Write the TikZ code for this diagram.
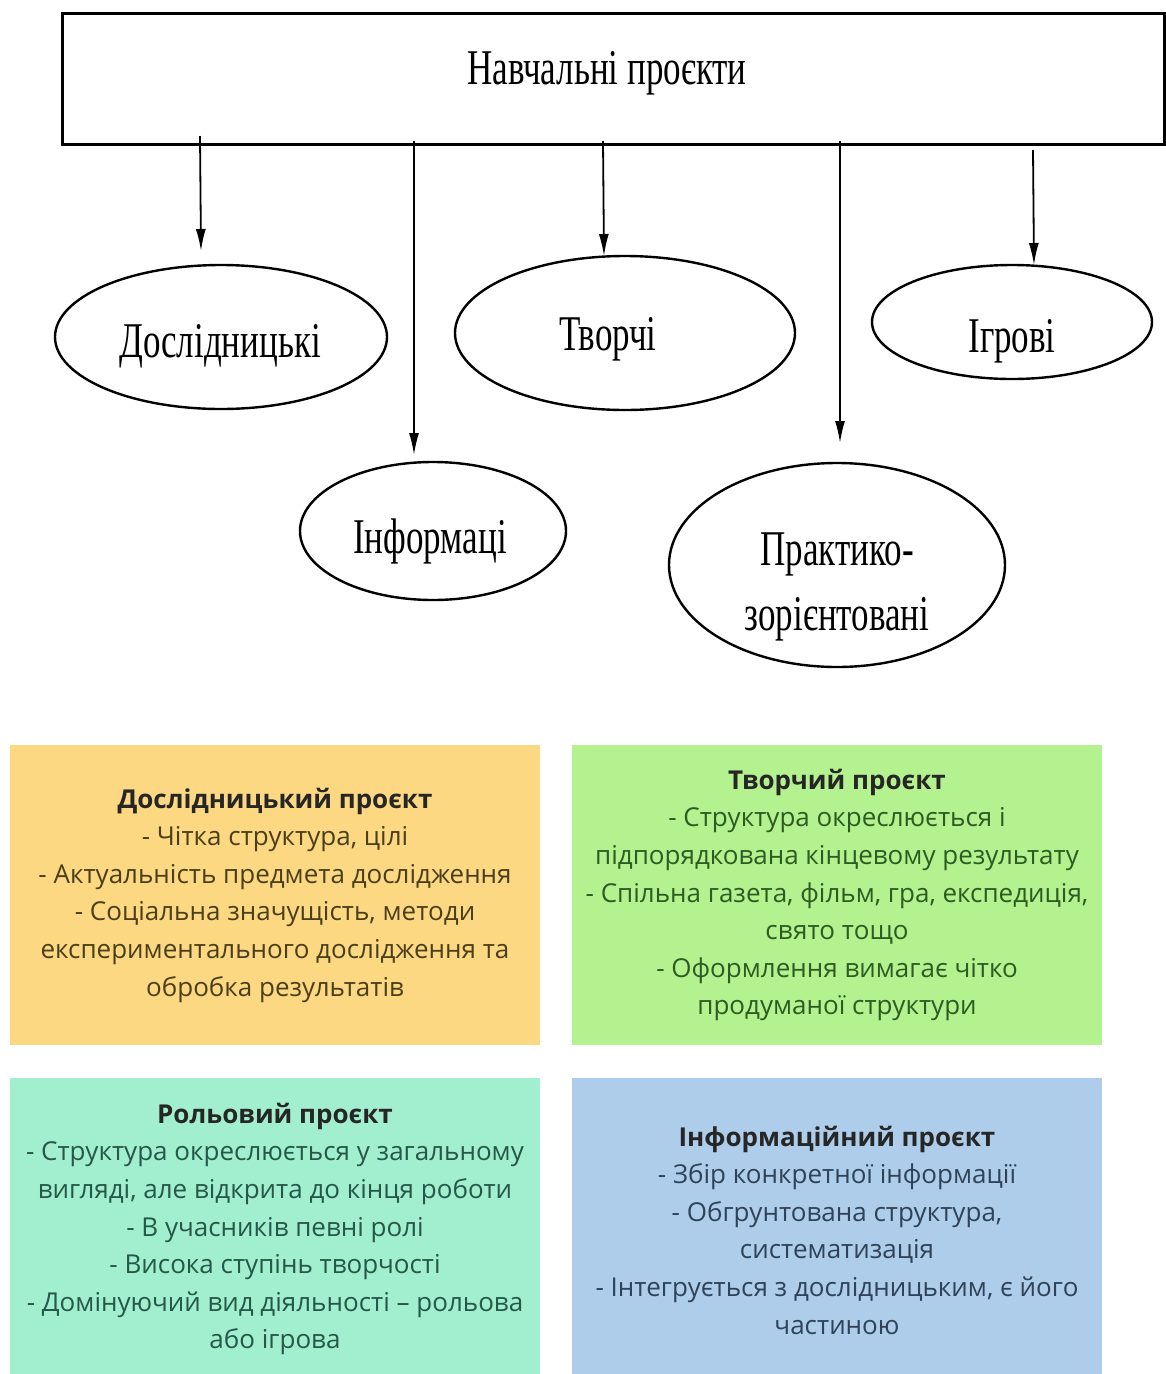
\documentclass[tikz,border=0pt]{standalone}
\usepackage{fontspec}
\setmainfont{Liberation Serif}
\newfontfamily\cond[FakeStretch=0.7]{Liberation Serif}
\newfontfamily\opensans{Open Sans}
\usetikzlibrary{shapes.geometric,arrows.meta}
\definecolor{boxY}{HTML}{FDD882}
\definecolor{boxG}{HTML}{B3F28E}
\definecolor{boxT}{HTML}{A2EFD0}
\definecolor{boxB}{HTML}{ADCDEB}
\definecolor{txtY}{HTML}{4A3F1A}
\definecolor{txtG}{HTML}{2E5B22}
\definecolor{txtT}{HTML}{25574A}
\definecolor{txtB}{HTML}{2F4257}
\tikzset{
  oval/.style={ellipse,draw,line width=2.4pt,inner sep=0pt},
  lbl/.style={font=\cond\fontsize{50}{60}\selectfont,anchor=base,inner sep=0pt},
  arr/.style={line width=1.8pt,-{Latex[length=22pt,width=10pt]}},
  cardtext/.style={align=center,font=\opensans\fontsize{26}{37.6}\selectfont,inner sep=0pt}
}
\begin{document}
\begin{tikzpicture}[x=1pt,y=-1pt]
\useasboundingbox (0,0) rectangle (1166,1374);
\fill[white] (0,0) rectangle (1166,1374);
% top box
\node[draw,line width=2.6pt,minimum width=1102pt,minimum height=131pt,inner sep=0pt,anchor=north west] (top) at (61,12) {};
\node[lbl] (toptxt) at (607,84) {Навчальні проєкти};
% ellipses
\node[oval,minimum width=332pt,minimum height=144pt] (e1) at (221,337) {};
\node[oval,minimum width=266pt,minimum height=138pt] (e2) at (433,531) {};
\node[oval,minimum width=340pt,minimum height=154pt] (e3) at (625,333) {};
\node[oval,minimum width=336pt,minimum height=204pt] (e4) at (837,565) {};
\node[oval,minimum width=280pt,minimum height=114pt] (e5) at (1012,322) {};
\node[lbl] (e1t) at (220,357) {Дослідницькі};
\node[lbl] (e2t) at (430,553) {Інформаці};
\node[lbl] (e3t) at (608,350) {Творчі};
\node[lbl] (e4t) at (837,565) {Практико-};
\node[lbl] (e4u) at (837,630) {зорієнтовані};
\node[lbl] (e5t) at (1012,352) {Ігрові};
% arrows
\coordinate (s1) at (200,136); \coordinate (t1) at (201,251);
\coordinate (s2) at (414,141); \coordinate (t2) at (414,455);
\coordinate (s3) at (603,141); \coordinate (t3) at (604,256);
\coordinate (s4) at (840,141); \coordinate (t4) at (840,443);
\coordinate (s5) at (1033,150); \coordinate (t5) at (1034,265);
\draw[arr] (s1) -- (t1);
\draw[arr] (s2) -- (t2);
\draw[arr] (s3) -- (t3);
\draw[arr] (s4) -- (t4);
\draw[arr] (s5) -- (t5);
% cards
\fill[boxY] (10,745) rectangle (540,1045);
\fill[boxG] (572,745) rectangle (1102,1045);
\fill[boxT] (10,1078) rectangle (540,1374);
\fill[boxB] (572,1078) rectangle (1102,1374);
\node[cardtext,text=txtY] (cY) at (275,895) {{\bfseries\color{black!85}Дослідницький проєкт}\\- Чітка структура, цілі\\- Актуальність предмета дослідження\\- Соціальна значущість, методи\\експериментального дослідження та\\обробка результатів};
\node[cardtext,text=txtG] (cG) at (837,895) {{\bfseries\color{black!85}Творчий проєкт}\\- Структура окреслюється і\\підпорядкована кінцевому результату\\- Спільна газета, фільм, гра, експедиція,\\свято тощо\\- Оформлення вимагає чітко\\продуманої структури};
\node[cardtext,text=txtT] (cT) at (275,1229) {{\bfseries\color{black!85}Рольовий проєкт}\\- Структура окреслюється у загальному\\вигляді, але відкрита до кінця роботи\\- В учасників певні ролі\\- Висока ступінь творчості\\- Домінуючий вид діяльності – рольова\\або ігрова};
\node[cardtext,text=txtB] (cB) at (837,1230) {{\bfseries\color{black!85}Інформаційний проєкт}\\- Збір конкретної інформації\\- Обгрунтована структура,\\систематизація\\- Інтегрується з дослідницьким, є його\\частиною};
\end{tikzpicture}
\end{document}
